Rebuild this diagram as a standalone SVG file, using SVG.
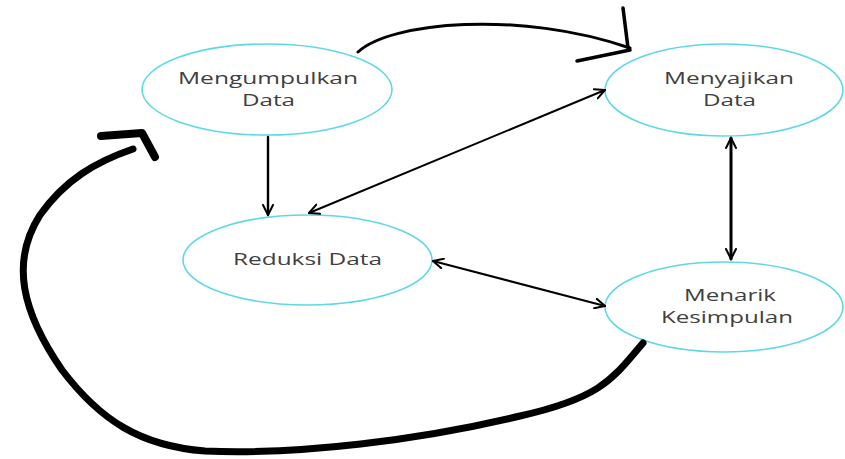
<svg xmlns="http://www.w3.org/2000/svg" width="845" height="459" viewBox="0 0 845 459">
<style>
.node ellipse{fill:#fff;stroke:#5fd8e6;stroke-width:1.6}
.node text{font-family:"Open Sans","Noto Sans",sans-serif;font-size:16px;fill:#404040}
.conn{fill:none;stroke:#000;stroke-linecap:round;stroke-linejoin:round}
</style>
<defs>
<marker id="ah" viewBox="0 0 12 12" refX="11" refY="6" markerWidth="12" markerHeight="12" markerUnits="userSpaceOnUse" orient="auto-start-reverse">
<path d="M1,1 L11,6 L1,11" fill="none" stroke="#000" stroke-width="2" stroke-linecap="round" stroke-linejoin="round"/>
</marker>
</defs>
<rect width="845" height="459" fill="#fff"/>
<g id="n1" class="node"><ellipse cx="267" cy="89.5" rx="125" ry="45.5"/>
<text x="178" y="84" textLength="180" lengthAdjust="spacingAndGlyphs">Mengumpulkan</text>
<text x="242" y="106" textLength="53" lengthAdjust="spacingAndGlyphs">Data</text></g>
<g id="n2" class="node"><ellipse cx="724" cy="90" rx="119" ry="46"/>
<text x="664" y="84" textLength="130" lengthAdjust="spacingAndGlyphs">Menyajikan</text>
<text x="703" y="106" textLength="53" lengthAdjust="spacingAndGlyphs">Data</text></g>
<g id="n3" class="node"><ellipse cx="307.5" cy="260" rx="124.5" ry="45"/>
<text x="233" y="265" textLength="149" lengthAdjust="spacingAndGlyphs">Reduksi Data</text></g>
<g id="n4" class="node"><ellipse cx="724" cy="307" rx="119" ry="45"/>
<text x="684" y="301" textLength="92" lengthAdjust="spacingAndGlyphs">Menarik</text>
<text x="661" y="323" textLength="132" lengthAdjust="spacingAndGlyphs">Kesimpulan</text></g>
<g id="connectors">
<path class="conn" stroke-width="2.4" d="M268 137 L268 215" marker-end="url(#ah)"/>
<path class="conn" stroke-width="2" d="M309 213 L605 90" marker-start="url(#ah)" marker-end="url(#ah)"/>
<path class="conn" stroke-width="3" d="M731 138 L731 259" marker-start="url(#ah)" marker-end="url(#ah)"/>
<path class="conn" stroke-width="2" d="M433 261 L605 306" marker-start="url(#ah)" marker-end="url(#ah)"/>
<path class="conn" stroke-width="3" d="M358 52 C390 22 520 10 630 48"/>
<path class="conn" stroke-width="3.5" d="M623 8 L628 48 M577 61 L630 50"/>
<path class="conn" stroke-width="7" d="M643 343 C612 380 600 398 520 416 C420 440 300 455 205 451 C140 446 100 420 62 370 C22 312 10 262 40 215 C65 180 95 162 133 149"/>
<path class="conn" stroke-width="8" d="M101 136 L142 133 L155 157"/>
</g>
</svg>
